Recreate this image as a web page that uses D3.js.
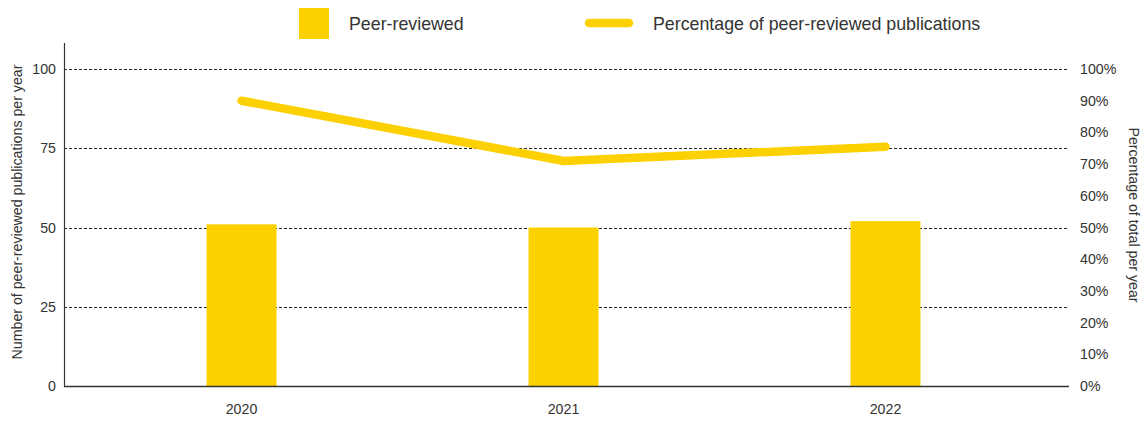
<!DOCTYPE html>
<html>
<head>
<meta charset="utf-8">
<script src="https://cdn.jsdelivr.net/npm/d3@7"></script>
<style>
  html, body { margin: 0; padding: 0; background: #fff; }
  svg { display: block; font-family: "Liberation Sans", Arial, sans-serif; }
  .tick text { fill: #333; }
</style>
</head>
<body>
<svg id="chart" width="1146" height="423"></svg>
<script>
// Peer-reviewed publications per year, and their share of all publications
const years = ["2020", "2021", "2022"];
const peerReviewed = [51, 50, 52];
const percentPeerReviewed = [90, 71, 75.5];
const countTicks = [0, 25, 50, 75, 100];
const percentTicks = [0, 10, 20, 30, 40, 50, 60, 70, 80, 90, 100];

const yellow = "#FDD000";
const textColor = "#333";
const tickFont = 14.2;

const svg = d3.select("#chart");

const plot = { left: 64, right: 1069, top: 43, bottom: 386 };

const x = d3.scaleBand()
  .domain(years)
  .range([80.5, 1046.5]);
const barWidth = 70;

const yCount = d3.scaleLinear().domain([0, 100]).range([plot.bottom, 69]);
const yPct = d3.scaleLinear().domain([0, 100]).range([plot.bottom, 69]);

// dashed grid lines
svg.append("g")
  .selectAll("line")
  .data(countTicks.filter(d => d > 0))
  .join("line")
  .attr("x1", plot.left)
  .attr("x2", plot.right)
  .attr("y1", d => Math.round(yCount(d)) + 0.5)
  .attr("y2", d => Math.round(yCount(d)) + 0.5)
  .attr("stroke", "#222")
  .attr("stroke-width", 1)
  .attr("stroke-dasharray", "3,2");

// bars
svg.append("g")
  .selectAll("rect")
  .data(years)
  .join("rect")
  .attr("x", d => x(d) + x.bandwidth() / 2 - barWidth / 2)
  .attr("width", barWidth)
  .attr("y", (d, i) => yCount(peerReviewed[i]))
  .attr("height", (d, i) => plot.bottom - yCount(peerReviewed[i]))
  .attr("fill", yellow);

// percentage line
const line = d3.line()
  .x((d, i) => x(years[i]) + x.bandwidth() / 2)
  .y(d => yPct(d));

svg.append("path")
  .datum(percentPeerReviewed)
  .attr("d", line)
  .attr("fill", "none")
  .attr("stroke", yellow)
  .attr("stroke-width", 8.5)
  .attr("stroke-linecap", "round")
  .attr("stroke-linejoin", "miter");

// left axis
const leftAxis = svg.append("g")
  .attr("transform", `translate(${plot.left},0)`)
  .call(d3.axisLeft(yCount).tickValues(countTicks).tickSize(0).tickPadding(8));
leftAxis.select(".domain").remove();
leftAxis.selectAll("text").attr("font-size", tickFont).attr("fill", textColor);
svg.append("line")
  .attr("x1", plot.left + 0.5).attr("x2", plot.left + 0.5)
  .attr("y1", plot.top).attr("y2", plot.bottom)
  .attr("stroke", "#333").attr("stroke-width", 1.2);

// right axis
const rightAxis = svg.append("g")
  .attr("transform", `translate(${plot.right},0)`)
  .call(d3.axisRight(yPct).tickValues(percentTicks).tickFormat(d => d + "%").tickSize(0).tickPadding(11));
rightAxis.select(".domain").remove();
rightAxis.selectAll("text").attr("font-size", tickFont).attr("fill", textColor);

// bottom axis
const bottomAxis = svg.append("g")
  .attr("transform", `translate(0,${plot.bottom})`)
  .call(d3.axisBottom(x).tickSize(0).tickPadding(18));
bottomAxis.select(".domain").remove();
bottomAxis.selectAll("text").attr("font-size", tickFont).attr("fill", textColor);
svg.append("line")
  .attr("x1", plot.left).attr("x2", plot.right)
  .attr("y1", plot.bottom + 0.5).attr("y2", plot.bottom + 0.5)
  .attr("stroke", "#333").attr("stroke-width", 1.5);

// axis titles
svg.append("text")
  .attr("transform", "translate(22,212) rotate(-90)")
  .attr("text-anchor", "middle")
  .attr("font-size", tickFont)
  .attr("fill", textColor)
  .text("Number of peer-reviewed publications per year");

svg.append("text")
  .attr("transform", "translate(1129,215) rotate(90)")
  .attr("text-anchor", "middle")
  .attr("font-size", tickFont)
  .attr("fill", textColor)
  .text("Percentage of total per year");

// legend
const legend = svg.append("g");
legend.append("rect")
  .attr("x", 299).attr("y", 8).attr("width", 30).attr("height", 31)
  .attr("fill", yellow);
legend.append("text")
  .attr("x", 349).attr("y", 29.5)
  .attr("font-size", 17.8).attr("fill", textColor)
  .text("Peer-reviewed");
legend.append("line")
  .attr("x1", 589).attr("x2", 629)
  .attr("y1", 23).attr("y2", 23)
  .attr("stroke", yellow).attr("stroke-width", 8.5)
  .attr("stroke-linecap", "round");
legend.append("text")
  .attr("x", 653).attr("y", 29.5)
  .attr("font-size", 17.8).attr("fill", textColor)
  .text("Percentage of peer-reviewed publications");
</script>
</body>
</html>
